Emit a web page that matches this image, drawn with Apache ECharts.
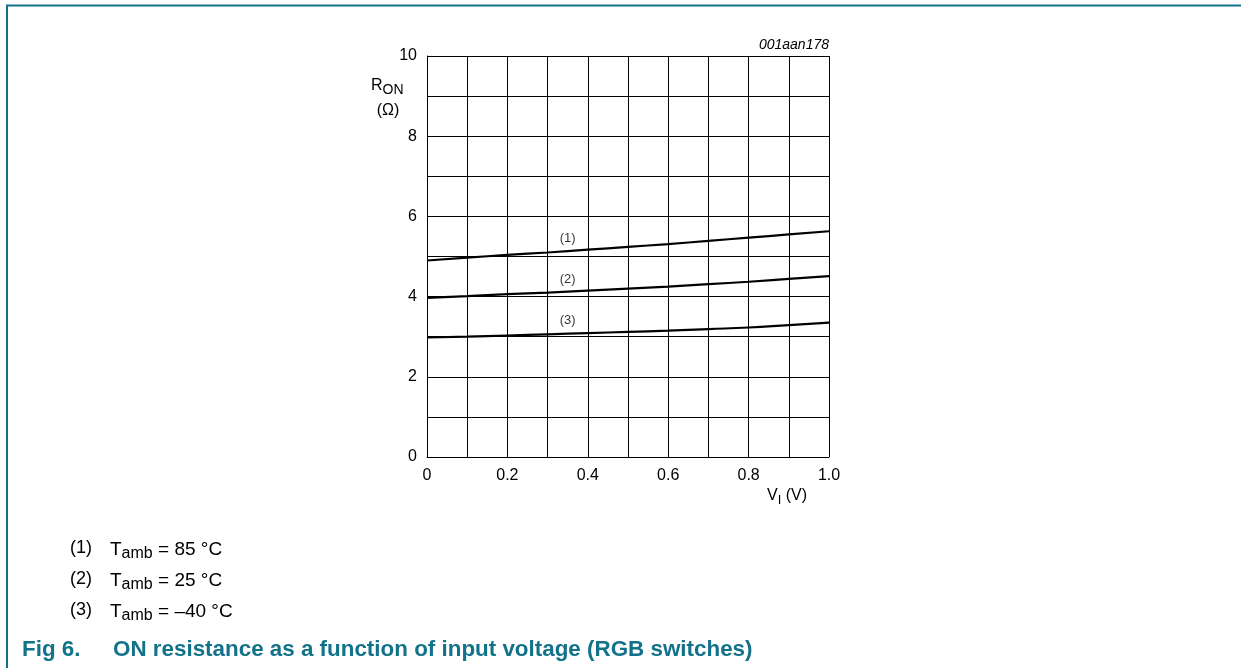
<!DOCTYPE html>
<html>
<head>
<meta charset="utf-8">
<script src="https://cdn.jsdelivr.net/npm/echarts@6/dist/echarts.min.js"></script>
<style>
html,body{margin:0;padding:0;background:#fff;}
#c{width:1241px;height:668px;}
</style>
</head>
<body>
<div id="c"></div>
<script>
// Data
const vIn = [0, 0.1, 0.2, 0.3, 0.4, 0.5, 0.6, 0.7, 0.8, 0.9, 1.0];
const ron85 = [4.90, 4.97, 5.04, 5.10, 5.17, 5.24, 5.31, 5.39, 5.47, 5.55, 5.63];
const ron25 = [3.97, 4.01, 4.06, 4.10, 4.15, 4.20, 4.25, 4.31, 4.37, 4.44, 4.51];
const ronM40 = [2.98, 3.00, 3.03, 3.06, 3.09, 3.12, 3.15, 3.19, 3.23, 3.29, 3.35];
const curveLabels = ['(1)', '(2)', '(3)'];
const curveLabelPos = [[0.35, 5.46], [0.35, 4.42], [0.35, 3.41]];
const xTickLabels = {0: '0', 0.2: '0.2', 0.4: '0.4', 0.6: '0.6', 0.8: '0.8', 1: '1.0'};
const yTickLabels = {0: '0', 2: '2', 4: '4', 6: '6', 8: '8', 10: '10'};
const legendNums = ['(1)', '(2)', '(3)'];
const legendTemps = ['85 °C', '25 °C', '\u201340 °C'];
const figNo = 'Fig 6.';
const figTitle = 'ON resistance as a function of input voltage (RGB switches)';
const figId = '001aan178';

const FONT = 'Liberation Sans, Arial, sans-serif';
const TEAL = '#127289';
const chart = echarts.init(document.getElementById('c'), null, {renderer: 'canvas'});

function mk(vals) { return vIn.map((x, i) => [x, vals[i]]); }
const allCurves = [ron85, ron25, ronM40];

const series = allCurves.map((vals) => ({
  type: 'line',
  data: mk(vals),
  smooth: true,
  symbol: 'none',
  lineStyle: {color: '#000', width: 2.2},
  z: 5,
  silent: true
}));
series.push({
  type: 'scatter',
  data: curveLabelPos.map((p, k) => ({value: p, name: curveLabels[k]})),
  symbolSize: 0,
  silent: true,
  label: {show: true, position: 'inside', formatter: p => p.name, color: '#000', fontSize: 13, fontFamily: FONT}
});

const graphics = [
  {type: 'line', shape: {x1: 6, y1: 5.5, x2: 1241, y2: 5.5}, style: {stroke: TEAL, lineWidth: 2}},
  {type: 'line', shape: {x1: 7, y1: 5, x2: 7, y2: 668}, style: {stroke: TEAL, lineWidth: 2}},
  {type: 'text', x: 829, y: 45, style: {text: figId, font: 'italic 14px ' + FONT, fill: '#000', align: 'right', verticalAlign: 'middle'}},
  {type: 'text', left: 371, top: 78, style: {
    text: 'R{s|ON}', font: '16px ' + FONT, fill: '#000',
    rich: {s: {fontSize: 14, fontFamily: FONT, padding: [8, 0, 0, 0], fill: '#000'}}
  }},
  {type: 'text', x: 388, y: 111, style: {text: '(\u03A9)', font: '16px ' + FONT, fill: '#000', align: 'center', verticalAlign: 'middle'}},
  {type: 'text', left: 767, top: 488, style: {
    text: 'V{s|I} (V)', font: '16px ' + FONT, fill: '#000',
    rich: {s: {fontSize: 13, fontFamily: FONT, padding: [8, 0, 0, 0], fill: '#000'}}
  }},
  {type: 'text', x: 22, y: 650, style: {text: figNo, font: 'bold 22.4px ' + FONT, fill: TEAL, verticalAlign: 'middle'}},
  {type: 'text', x: 113, y: 650, style: {text: figTitle, font: 'bold 22.4px ' + FONT, fill: TEAL, verticalAlign: 'middle'}}
];
legendNums.forEach((n, i) => {
  const cy = 548 + i * 31;
  graphics.push({type: 'text', x: 70, y: cy, style: {text: n, font: '18px ' + FONT, fill: '#000', verticalAlign: 'middle'}});
  graphics.push({type: 'text', x: 110, y: cy + 2, style: {
    text: 'T{s|amb} = ' + legendTemps[i], font: '19px ' + FONT, fill: '#000', verticalAlign: 'middle',
    rich: {s: {fontSize: 16, fontFamily: FONT, padding: [8, 0, 0, 0], fill: '#000'}}
  }});
});

chart.setOption({
  animation: false,
  backgroundColor: '#fff',
  grid: {left: 427, top: 56, width: 402, height: 401, show: false},
  xAxis: {
    type: 'value', min: 0, max: 1, interval: 0.1,
    axisLine: {show: true, lineStyle: {color: '#000', width: 1}},
    axisTick: {show: false},
    axisLabel: {
      margin: 11, color: '#000', fontSize: 16, fontFamily: FONT,
      formatter: v => { const k = Math.round(v * 10) / 10; return xTickLabels[k] !== undefined ? xTickLabels[k] : ''; }
    },
    splitLine: {show: true, lineStyle: {color: '#000', width: 1}}
  },
  yAxis: {
    type: 'value', min: 0, max: 10, interval: 1,
    axisLine: {show: true, lineStyle: {color: '#000', width: 1}},
    axisTick: {show: false},
    axisLabel: {
      margin: 10, color: '#000', fontSize: 16, fontFamily: FONT,
      formatter: v => yTickLabels[v] !== undefined ? yTickLabels[v] : ''
    },
    splitLine: {show: true, lineStyle: {color: '#000', width: 1}}
  },
  series: series,
  graphic: graphics
});
</script>
</body>
</html>
